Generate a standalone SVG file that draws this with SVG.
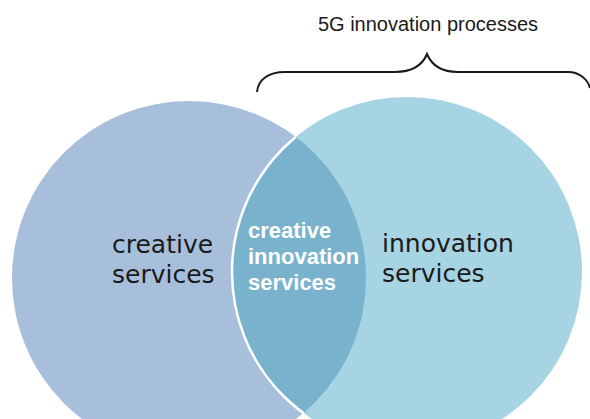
<svg xmlns="http://www.w3.org/2000/svg" width="590" height="419" viewBox="0 0 590 419">
  <style>
    .label { font-family: "DejaVu Sans", "Liberation Sans", sans-serif; font-size: 25px; fill: #1a1a1a; }
    .overlap { font-family: "Liberation Sans", Arial, sans-serif; font-size: 22px; font-weight: bold; fill: #ffffff; }
    .title { font-family: "Liberation Sans", Arial, sans-serif; font-size: 20px; fill: #1a1a1a; }
  </style>
  <defs>
    <clipPath id="leftClip">
      <circle cx="189" cy="278" r="177"/>
    </clipPath>
  </defs>
  <rect width="590" height="419" fill="#ffffff"/>

  <g id="creative-services">
    <circle cx="189" cy="278" r="177" fill="#a8bfdc"/>
    <text class="label" x="112" y="253">creative<tspan x="112" dy="30">services</tspan></text>
  </g>

  <g id="innovation-services">
    <circle cx="407" cy="272" r="175" fill="#a6d4e2"/>
    <text class="label" x="382" y="252">innovation<tspan x="382" dy="30">services</tspan></text>
  </g>

  <g id="creative-innovation-services">
    <circle cx="407" cy="272" r="175" fill="#78b2cd" clip-path="url(#leftClip)"/>
    <circle cx="407" cy="272" r="175" fill="none" stroke="#ffffff" stroke-width="2.5" clip-path="url(#leftClip)"/>
    <text class="overlap" x="248" y="238">creative<tspan x="248" dy="26">innovation</tspan><tspan x="248" dy="26">services</tspan></text>
  </g>

  <g id="connectors">
    <path d="M257 92 C258 80 268 72 285 72 L395 72 C412 72 422 66 427 54 C432 66 442 72 458 72 L568 72 C580 72 588 80 590 88" fill="none" stroke="#1a1a1a" stroke-width="2"/>
  </g>

  <g id="innovation-processes">
    <text class="title" x="428" y="31" text-anchor="middle">5G innovation processes</text>
  </g>
</svg>
